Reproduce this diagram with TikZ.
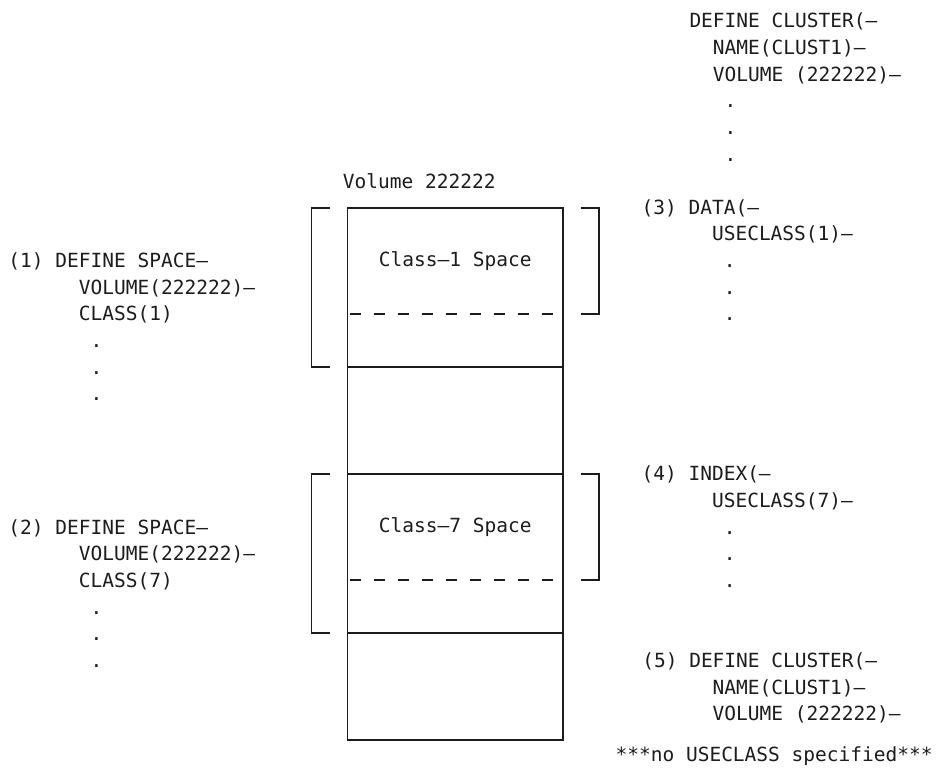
\documentclass[tikz,border=0pt]{standalone}
\usepackage{fontspec}
\usetikzlibrary{positioning}
\newfontfamily\codefont{DejaVu Sans Mono}
\definecolor{ink}{HTML}{1C1C1C}
\newlength\chw
\setlength\chw{11.74pt}
\newcommand\colsp[1]{\hspace*{#1\chw}}
% base anchor of a multi-line node sits on its last line
\tikzset{
  code/.style={anchor=base west, inner sep=0pt, align=left, text=ink,
    font=\codefont\fontsize{19.5pt}{26.67pt}\selectfont},
  frame/.style={draw=ink, line width=1.2pt},
  gapline/.style={frame, dash pattern=on 11pt off 13pt, dash phase=-2pt},
  brk/.style={frame, line cap=butt},
}

\begin{document}
\begin{tikzpicture}[x=1pt,y=-1pt]
  \useasboundingbox (0,0) rectangle (940,777);
  % the volume
  \coordinate (vtop) at (347.7,208);
  \coordinate (vbot) at (563,740);
  \draw[frame] (vtop) rectangle (vbot);
  \foreach \y in {367,474,633} { \draw[frame] (347.7,\y) -- (563,\y); }
  \foreach \y in {314,580} { \draw[gapline] (347.7,\y) -- (563,\y); }
  \node[code] (vol) at (342.7,188.3) {Volume 222222};
  \node[code, anchor=center] (cls1) at (455.3,261) {Class—1 Space};
  \node[code, anchor=center] (cls7) at (455.3,527) {Class—7 Space};
  % brackets
  \foreach \t/\b in {208/367,474/633} {
    \draw[brk] (330,\t) -- (311.7,\t) -- (311.7,\b) -- (330,\b);
  }
  \foreach \t/\b in {208/314,474/580} {
    \draw[brk] (581,\t) -- (599,\t) -- (599,\b) -- (581,\b);
  }
  % statements
  \node[code] (clus) at (689.3,161.2) {DEFINE CLUSTER(—\\ \colsp{2}NAME(CLUST1)—\\
    \colsp{2}VOLUME (222222)—\\ \colsp{3}.\\ \colsp{3}.\\ \colsp{3}.};
  \node[code] (sp1) at (8.3,400.9) {(1) DEFINE SPACE—\\ \colsp{6}VOLUME(222222)—\\
    \colsp{6}CLASS(1)\\ \colsp{7}.\\ \colsp{7}.\\ \colsp{7}.};
  \node[code] (sp7) at (8.3,667.5) {(2) DEFINE SPACE—\\ \colsp{6}VOLUME(222222)—\\
    \colsp{6}CLASS(7)\\ \colsp{7}.\\ \colsp{7}.\\ \colsp{7}.};
  \node[code] (data) at (641.4,320.9) {(3) DATA(—\\ \colsp{6}USECLASS(1)—\\
    \colsp{7}.\\ \colsp{7}.\\ \colsp{7}.};
  \node[code] (idx) at (641.4,587.6) {(4) INDEX(—\\ \colsp{6}USECLASS(7)—\\
    \colsp{7}.\\ \colsp{7}.\\ \colsp{7}.};
  \node[code] (clus5) at (642.1,720.8) {(5) DEFINE CLUSTER(—\\ \colsp{6}NAME(CLUST1)—\\
    \colsp{6}VOLUME (222222)—};
  \node[code] (note) at (615.4,761) {***no USECLASS specified***};
\end{tikzpicture}
\end{document}
